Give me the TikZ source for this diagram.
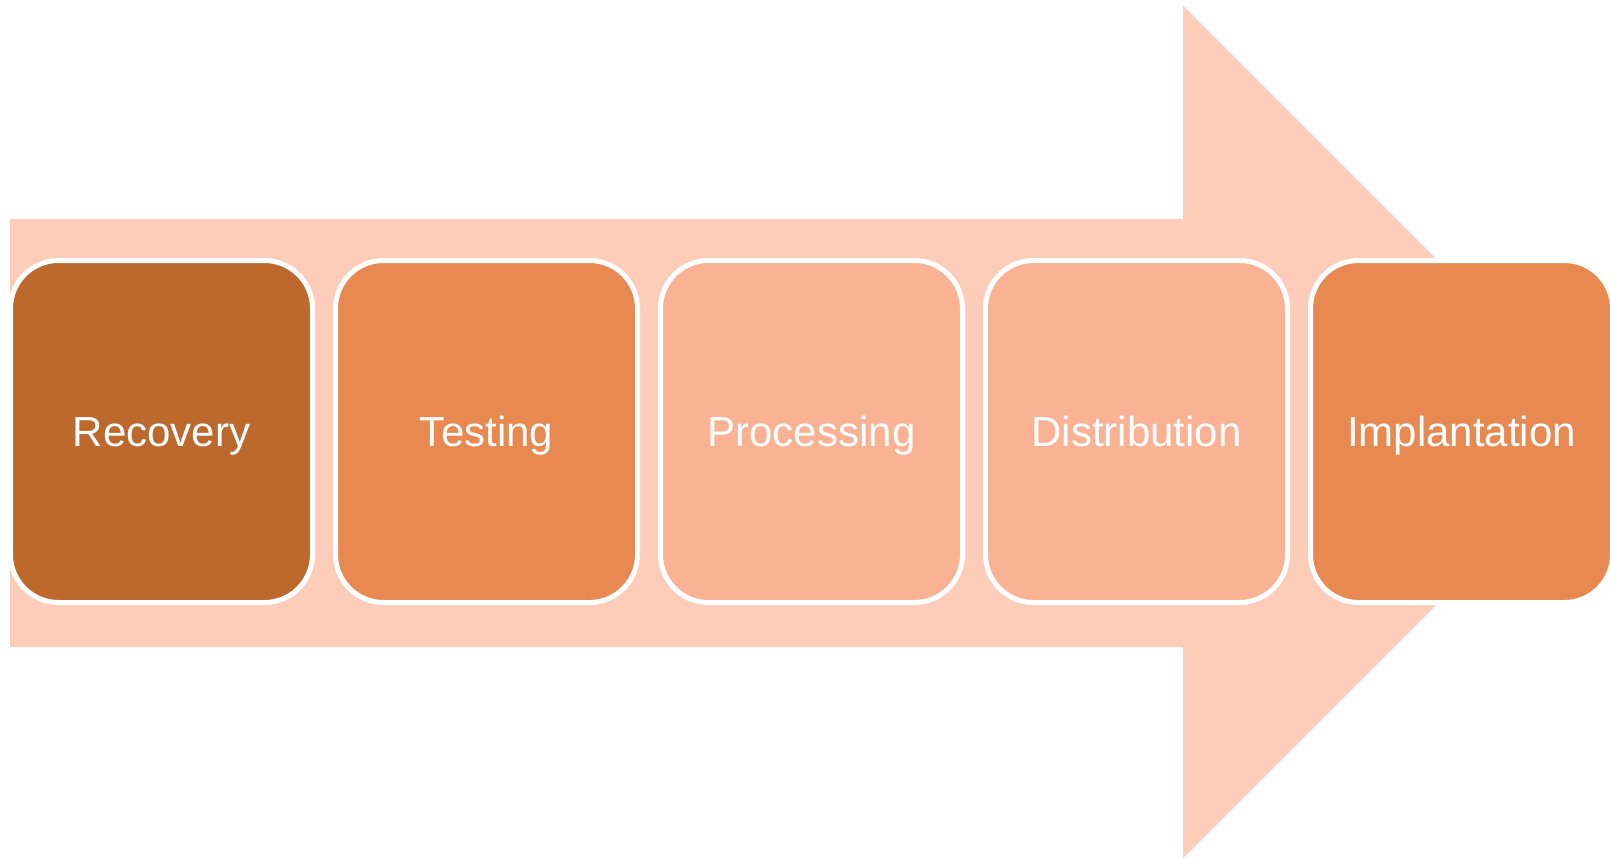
\documentclass[tikz,border=0pt]{standalone}
\usepackage{fontspec}
\setmainfont{Liberation Sans}
\definecolor{arrowfill}{RGB}{254,205,185}
\definecolor{darkbox}{RGB}{189,104,45}
\definecolor{midbox}{RGB}{233,137,82}
\definecolor{lightbox}{RGB}{250,178,148}
\begin{document}
\begin{tikzpicture}[x=1pt,y=-1pt,
  stagebox/.style={draw=white, line width=5pt, rounded corners=48pt,
    minimum width=302pt, minimum height=342pt, anchor=north west,
    inner sep=0pt, outer sep=0pt, text=white, text height=30pt, text depth=1pt,
    font=\fontsize{42}{48}\selectfont}]
\useasboundingbox (0,0) rectangle (1610,859);
\clip (0,0) rectangle (1610,859);
\fill[arrowfill] (10,219) -- (1183,219) -- (1183,6) -- (1609,432) -- (1183,858) -- (1183,647) -- (10,647) -- cycle;
\node[stagebox, fill=darkbox]  (recovery)     at (10.5,260.5)   {Recovery};
\node[stagebox, fill=midbox]   (testing)      at (335.5,260.5)  {Testing};
\node[stagebox, fill=lightbox] (processing)   at (660.5,260.5)  {Processing};
\node[stagebox, fill=lightbox] (distribution) at (985.5,260.5)  {Distribution};
\node[stagebox, fill=midbox]   (implantation) at (1310.5,260.5) {Implantation};
\end{tikzpicture}
\end{document}
